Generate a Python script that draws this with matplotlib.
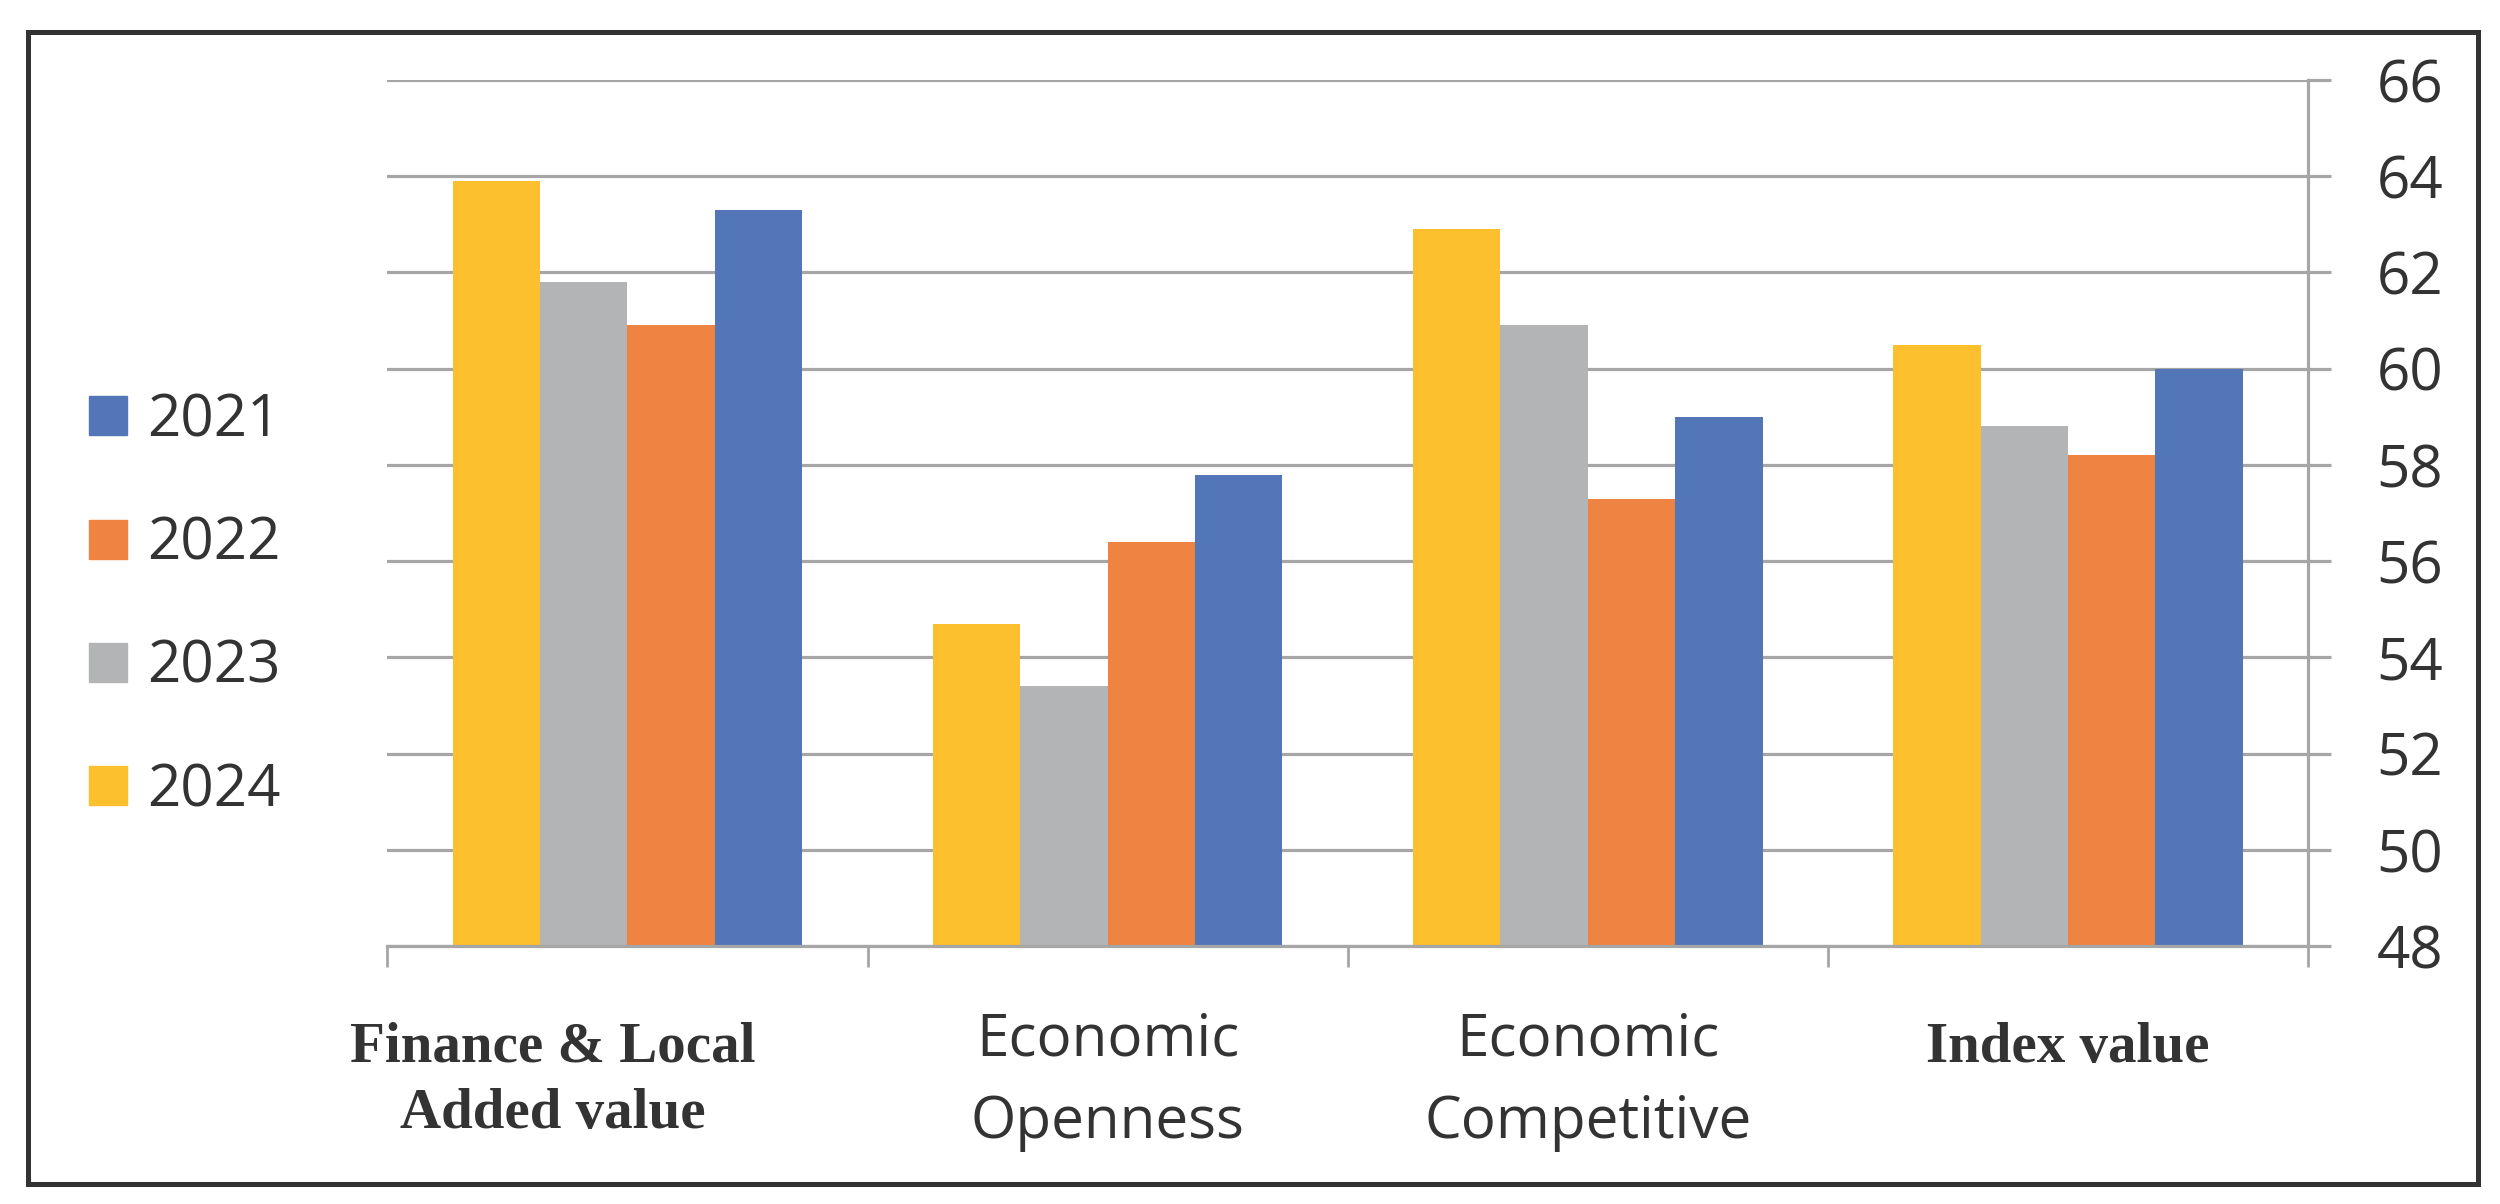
import matplotlib
matplotlib.use("Agg")
import matplotlib.pyplot as plt
from matplotlib.patches import Rectangle, Patch
from matplotlib.transforms import blended_transform_factory
import numpy as np

# data
categories = ["Finance & Local\nAdded value", "Economic\nOpenness",
              "Economic\nCompetitive", "Index value"]
years = ["2024", "2023", "2022", "2021"]
v2024 = [63.9, 54.7, 62.9, 60.5]
v2023 = [61.8, 53.4, 60.9, 58.8]
v2022 = [60.9, 56.4, 57.3, 58.2]
v2021 = [63.3, 57.8, 59.0, 60.0]
yticks = list(range(48, 67, 2))

colors = {"2024": "#FCBF2D", "2023": "#B3B4B6", "2022": "#EF8342", "2021": "#5276B8"}
grid_c = "#A6A6A6"
text_c = "#333333"
W, H = 2500, 1204

fig = plt.figure(figsize=(W / 100, H / 100), dpi=100)
ax = fig.add_axes([387.4 / W, 1 - 946 / H, (2308 - 387.4) / W, (946 - 80) / H])

x = np.arange(len(categories))
width = 0.182
series = [v2024, v2023, v2022, v2021]
for i, (yr, vals) in enumerate(zip(years, series)):
    ax.bar(x + (i - 1.5) * width, vals, width, color=colors[yr], zorder=2, label=yr)

ax.set_xlim(-0.5, len(categories) - 0.5)
ax.set_ylim(48, 66)
ax.set_yticks(yticks)
ax.yaxis.tick_right()
ax.yaxis.grid(True, color=grid_c, lw=2.3)
ax.set_axisbelow(True)

for s in ["top", "left"]:
    ax.spines[s].set_visible(False)
for s in ["right", "bottom"]:
    ax.spines[s].set_color(grid_c)
    ax.spines[s].set_linewidth(2.3)

ax.tick_params(axis="y", length=16.5, width=2.3, color=grid_c, pad=33,
               labelsize=42, labelcolor=text_c)
for lab in ax.get_yticklabels():
    lab.set_fontfamily("Open Sans")

ax.set_xticks(np.arange(-0.5, len(categories), 1))
ax.set_xticklabels([])
ax.tick_params(axis="x", length=15, width=2.0, color=grid_c, direction="out")

# category labels, two fonts like the original
trans = blended_transform_factory(ax.transData, fig.transFigure)
label_dx = [-0.156, 0, 0, 0]
serif = [True, False, False, True]
for i, cat in enumerate(categories):
    lines = cat.split("\n")
    if serif[i]:
        base = [1062, 1128]
        kw = dict(family="Liberation Serif", weight="bold", size=41)
    else:
        base = [1055, 1138]
        kw = dict(family="Open Sans", size=42)
    for j, line in enumerate(lines):
        ax.text(x[i] + label_dx[i], 1 - base[j] / H, line, transform=trans,
                ha="center", va="baseline", color=text_c, **kw)

# legend on the left, 2021 on top
handles = [Patch(color=colors[yr]) for yr in years[::-1]]
fig.legend(handles, years[::-1], loc="center left",
           bbox_to_anchor=(89 / W, 1 - 606 / H), frameon=False,
           borderpad=0, borderaxespad=0, handlelength=0.65, handleheight=0.65,
           handletextpad=0.34, labelspacing=1.11,
           prop={"family": "Open Sans", "size": 42}, labelcolor=text_c)

# dark frame around the picture
fig.add_artist(Rectangle((28 / W, 1 - 1184 / H), (2478 - 28) / W, (1184 - 32) / H,
                         transform=fig.transFigure, fill=False,
                         ec="#333333", lw=3.6))

fig.savefig("out.png", dpi=100)
